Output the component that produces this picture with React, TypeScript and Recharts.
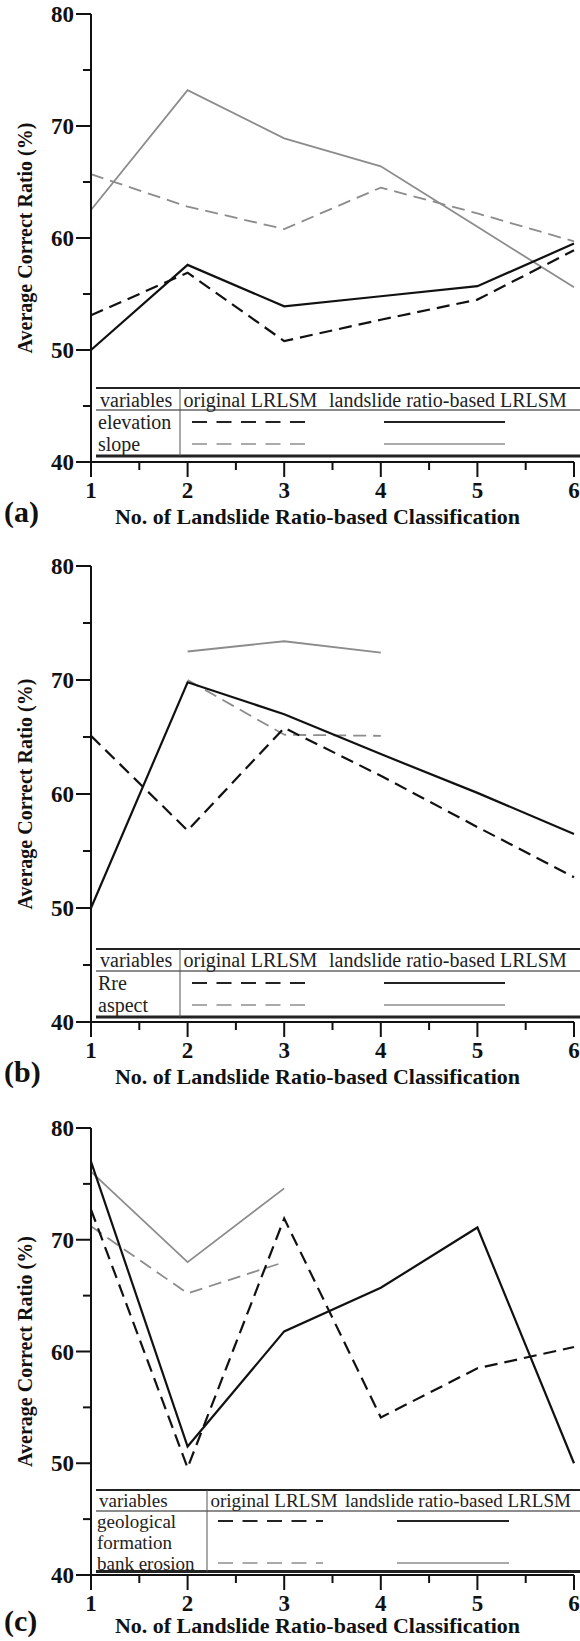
import React from "react";
import { LineChart, Line, XAxis, YAxis } from "recharts";

const CLASSES = [1, 2, 3, 4, 5, 6];
const X_TICKS = [1, 1.5, 2, 2.5, 3, 3.5, 4, 4.5, 5, 5.5, 6];
const Y_TICKS = [40, 45, 50, 55, 60, 65, 70, 75, 80];

// (a) elevation / slope
const ELEVATION_ORIG = [53.1, 56.9, 50.8, 52.7, 54.5, 58.9];
const ELEVATION_LR = [50.0, 57.6, 53.9, 54.8, 55.7, 59.5];
const SLOPE_ORIG = [65.7, 62.8, 60.8, 64.5, 62.2, 59.7];
const SLOPE_LR = [62.5, 73.2, 68.9, 66.4, 61.0, 55.6];

// (b) Rre / aspect
const RRE_ORIG = [65.1, 56.8, 65.8, 61.6, 57.1, 52.7];
const RRE_LR = [50.0, 69.8, 67.0, 63.5, 60.1, 56.5];
const ASPECT_ORIG = [null, 70.0, 65.2, 65.1, null, null];
const ASPECT_LR = [null, 72.5, 73.4, 72.4, null, null];

// (c) geological formation / bank erosion
const GEOLOGY_ORIG = [72.7, 49.6, 71.9, 54.1, 58.5, 60.4];
const GEOLOGY_LR = [77.0, 51.5, 61.8, 65.7, 71.1, 50.0];
const BANK_ORIG = [71.2, 65.2, 68.0, null, null, null];
const BANK_LR = [76.1, 68.0, 74.6, null, null, null];

const SERIF = "'Liberation Serif', 'Times New Roman', serif";
const BLACK = "#111";
const GRAY = "#8c8c8c";
const DASH = "13 7";

const buildData = (o1: any[], l1: any[], o2: any[], l2: any[]) =>
  CLASSES.map((c, i) => ({ cls: c, o1: o1[i], l1: l1[i], o2: o2[i], l2: l2[i] }));

// eslint-disable-next-line @typescript-eslint/no-explicit-any
const YTick = ({ x, y, payload }: any) => {
  const major = payload.value % 10 === 0;
  return (
    <g>
      <line x1={x - (major ? 15 : 8)} x2={x} y1={y} y2={y} stroke={BLACK} strokeWidth={2} />
      {major && (
        <text x={x - 17} y={y + 8} textAnchor="end" fontFamily={SERIF} fontWeight="bold" fontSize={23} fill={BLACK}>
          {payload.value}
        </text>
      )}
    </g>
  );
};

// eslint-disable-next-line @typescript-eslint/no-explicit-any
const XTick = ({ x, y, payload }: any) => {
  const major = Number.isInteger(payload.value);
  return (
    <g>
      <line x1={x} x2={x} y1={y} y2={y + (major ? 15 : 8)} stroke={BLACK} strokeWidth={2} />
      {major && (
        <text x={x} y={y + 36} textAnchor="middle" fontFamily={SERIF} fontWeight="bold" fontSize={23} fill={BLACK}>
          {payload.value}
        </text>
      )}
    </g>
  );
};

interface LegendRow { labels: string[]; ys: number[]; lineY: number; orig: string; lr: string; }
interface LegendGeom {
  top: number; headY: number; sep: number; bottom: number; divX: number;
  varX: number; origX: number; lrX: number; dash: number[]; solid: number[]; fontSize: number; rows: LegendRow[];
}

function LegendTable({ g }: { g: LegendGeom }) {
  const txt = { fontFamily: SERIF, fontSize: g.fontSize, fill: "#222", dominantBaseline: "central" as const };
  return (
    <svg width={580} height={g.bottom + 4} style={{ position: "absolute", left: 0, top: 0, pointerEvents: "none" }}>
      <line x1={96} x2={580} y1={g.top} y2={g.top} stroke="#222" strokeWidth={2} />
      <line x1={96} x2={580} y1={g.sep} y2={g.sep} stroke="#666" strokeWidth={1.5} />
      <line x1={96} x2={580} y1={g.bottom} y2={g.bottom} stroke="#222" strokeWidth={3} />
      <line x1={g.divX} x2={g.divX} y1={g.top} y2={g.bottom} stroke="#555" strokeWidth={1} />
      <text x={g.varX} y={g.headY} {...txt}>variables</text>
      <text x={g.origX} y={g.headY} {...txt}>original LRLSM</text>
      <text x={g.lrX} y={g.headY} {...txt}>landslide ratio-based LRLSM</text>
      {g.rows.map((r) => (
        <g key={r.labels.join(" ")}>
          {r.labels.map((l, i) => (
            <text key={l} x={g.varX - 2} y={r.ys[i]} {...txt}>{l}</text>
          ))}
          <line x1={g.dash[0]} x2={g.dash[1]} y1={r.lineY} y2={r.lineY} stroke={r.orig} strokeWidth={2} strokeDasharray="15 9.5" />
          <line x1={g.solid[0]} x2={g.solid[1]} y1={r.lineY} y2={r.lineY} stroke={r.lr} strokeWidth={2} />
        </g>
      ))}
    </svg>
  );
}

interface PanelProps {
  top: number; height: number; plotTop: number; plotBottom: number; tag: string; titleDy: number;
  data: ReturnType<typeof buildData>; legend: LegendGeom;
}

function Panel({ top, height, plotTop, plotBottom, tag, titleDy, data, legend }: PanelProps) {
  return (
    <div style={{ position: "absolute", left: 0, top, width: 580, height }}>
      <LineChart width={580} height={height} data={data}
        margin={{ top: plotTop, right: 6, left: 31, bottom: height - plotBottom - 30 }}>
        <XAxis dataKey="cls" type="number" domain={[1, 6]} ticks={X_TICKS} interval={0} height={30}
          tick={<XTick />} tickSize={0} tickMargin={0} tickLine={false}
          axisLine={{ stroke: BLACK, strokeWidth: 2 }}
          label={{
            // eslint-disable-next-line @typescript-eslint/no-explicit-any
            content: (p: any) => (
              <g>
                <text x={p.viewBox.x + p.viewBox.width / 2 - 15} y={p.viewBox.y + titleDy} textAnchor="middle"
                  fontFamily={SERIF} fontWeight="bold" fontSize={22} fill={BLACK}>
                  No. of Landslide Ratio-based Classification
                </text>
                <text x={4} y={p.viewBox.y + titleDy - 2} fontFamily={SERIF} fontWeight="bold" fontSize={30} fill={BLACK}>
                  {tag}
                </text>
              </g>
            ),
          }} />
        <YAxis type="number" domain={[40, 80]} ticks={Y_TICKS} interval={0} width={60}
          tick={<YTick />} tickSize={0} tickMargin={0} tickLine={false}
          axisLine={{ stroke: BLACK, strokeWidth: 2 }}
          label={{
            // eslint-disable-next-line @typescript-eslint/no-explicit-any
            content: (p: any) => {
              const cx = p.viewBox.x - 6;
              const cy = p.viewBox.y + p.viewBox.height / 2;
              return (
                <text x={cx} y={cy} transform={`rotate(-90, ${cx}, ${cy})`} textAnchor="middle"
                  dominantBaseline="central" fontFamily={SERIF} fontWeight="bold" fontSize={20} fill={BLACK}>
                  Average Correct Ratio (%)
                </text>
              );
            },
          }} />
        <Line dataKey="o2" type="linear" stroke={GRAY} strokeWidth={1.8} strokeDasharray={DASH} dot={false} isAnimationActive={false} />
        <Line dataKey="l2" type="linear" stroke={GRAY} strokeWidth={1.8} dot={false} isAnimationActive={false} />
        <Line dataKey="o1" type="linear" stroke={BLACK} strokeWidth={2.2} strokeDasharray={DASH} dot={false} isAnimationActive={false} />
        <Line dataKey="l1" type="linear" stroke={BLACK} strokeWidth={2.2} dot={false} isAnimationActive={false} />
      </LineChart>
      <LegendTable g={legend} />
    </div>
  );
}

const LEG_A: LegendGeom = {
  top: 388, headY: 400, sep: 410, bottom: 456, divX: 180, varX: 100, origX: 183.5, lrX: 329,
  dash: [192, 305], solid: [384, 505], fontSize: 20,
  rows: [
    { labels: ["elevation"], ys: [422], lineY: 422, orig: "#222", lr: "#222" },
    { labels: ["slope"], ys: [444], lineY: 444, orig: "#aaa", lr: "#aaa" },
  ],
};
const LEG_B: LegendGeom = {
  top: 409, headY: 420, sep: 431, bottom: 477, divX: 180, varX: 100, origX: 183.5, lrX: 329,
  dash: [192, 305], solid: [384, 505], fontSize: 20,
  rows: [
    { labels: ["Rre"], ys: [443], lineY: 443, orig: "#222", lr: "#222" },
    { labels: ["aspect"], ys: [465], lineY: 465, orig: "#aaa", lr: "#aaa" },
  ],
};
const LEG_C: LegendGeom = {
  top: 390, headY: 400, sep: 411, bottom: 471.5, divX: 207, varX: 99, origX: 210.5, lrX: 345,
  dash: [218, 323], solid: [397, 509], fontSize: 19,
  rows: [
    { labels: ["geological", "formation"], ys: [421, 442], lineY: 421, orig: "#222", lr: "#222" },
    { labels: ["bank erosion"], ys: [463], lineY: 463, orig: "#aaa", lr: "#aaa" },
  ],
};

export default function App() {
  return (
    <div style={{ position: "absolute", left: 0, top: 0, width: 580, height: 1641, background: "#fff", fontFamily: SERIF }}>
      <Panel top={0} height={540} plotTop={14} plotBottom={462} tag="(a)" titleDy={62}
        data={buildData(ELEVATION_ORIG, ELEVATION_LR, SLOPE_ORIG, SLOPE_LR)} legend={LEG_A} />
      <Panel top={540} height={560} plotTop={26} plotBottom={482} tag="(b)" titleDy={62}
        data={buildData(RRE_ORIG, RRE_LR, ASPECT_ORIG, ASPECT_LR)} legend={LEG_B} />
      <Panel top={1100} height={541} plotTop={28} plotBottom={475} tag="(c)" titleDy={58}
        data={buildData(GEOLOGY_ORIG, GEOLOGY_LR, BANK_ORIG, BANK_LR)} legend={LEG_C} />
    </div>
  );
}
